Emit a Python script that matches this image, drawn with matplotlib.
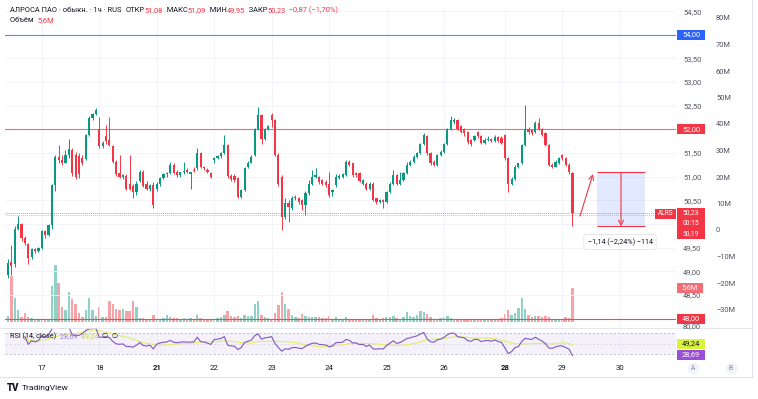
import numpy as np
import pandas as pd
import matplotlib
matplotlib.use("Agg")
import matplotlib.pyplot as plt
from matplotlib.patches import Rectangle
from matplotlib.lines import Line2D
from matplotlib.transforms import blended_transform_factory as blend

plt.rcParams['font.family'] = ['Roboto', 'DejaVu Sans']

# ---------------- data (hourly candles, ALRS) ----------------
opens = [
    48.92, 49.20, 49.15, 49.90, 50.00, 49.70, 49.58, 49.30, 49.48, 49.42,
    49.50, 49.85, 49.77, 49.98, 50.82, 51.42, 51.36, 51.30, 51.46, 51.56, 51.46, 51.44, 51.40, 51.38, 51.88, 52.25, 52.33,
    52.00, 51.65, 51.85, 51.78, 51.65, 51.32, 51.07, 51.00, 51.02, 50.85, 50.80, 50.68, 50.90, 51.10, 50.85, 50.75, 50.82,
    50.75, 50.85, 50.98, 51.05, 51.08, 51.25, 51.10, 51.04, 51.10, 51.15, 51.05, 51.14, 51.18, 51.50, 51.20, 51.15, 51.08,
    51.36, 51.40, 51.43, 51.50, 51.67, 51.02, 51.02, 50.98, 50.58, 50.72, 51.20, 51.30, 51.46, 52.00, 52.30, 51.80, 52.00,
    52.30, 52.20, 51.46, 51.00, 50.15, 50.45, 50.33, 50.55, 50.55, 50.50, 50.40, 50.65, 50.85, 51.00, 51.00, 50.92, 50.89,
    50.85, 50.68, 50.82, 50.98, 51.00, 51.04, 51.32, 51.28, 51.07, 51.07, 50.85, 50.85, 50.75, 50.85, 50.54, 50.47, 50.50,
    50.47, 50.68, 50.85, 51.04, 50.85, 50.92, 51.07, 51.25, 51.32, 51.42, 51.50, 51.70, 51.85, 51.50, 51.32, 51.25, 51.46,
    51.53, 51.70, 52.00, 52.15, 52.20, 52.07, 52.00, 51.95, 51.78, 51.78, 51.95, 51.85, 51.72, 51.78, 51.80, 51.76, 51.84, 51.82,
    51.88, 51.39, 50.85, 50.96, 51.21, 51.28, 51.67, 52.00, 51.98, 51.95, 52.14, 52.00, 51.92, 51.67, 51.25, 51.21, 51.28,
    51.46, 51.39, 51.25, 51.08,
]
highs = [
    49.25, 49.55, 49.95, 50.17, 50.02, 49.75, 49.60, 49.50, 49.50, 49.52,
    49.88, 49.88, 50.00, 50.85, 51.46, 51.67, 51.45, 51.56, 51.80, 51.60, 51.52, 51.50, 51.45, 51.90, 52.28, 52.35, 52.46,
    52.27, 51.75, 52.10, 52.27, 51.68, 51.35, 51.46, 51.06, 51.05, 51.46, 50.85, 50.90, 51.15, 51.15, 50.90, 50.85, 50.88,
    50.88, 51.00, 51.08, 51.10, 51.32, 51.30, 51.15, 51.10, 51.32, 51.18, 51.10, 51.20, 51.60, 51.52, 51.22, 51.18, 51.10,
    51.42, 51.45, 51.52, 51.88, 51.70, 51.05, 51.05, 51.00, 50.75, 51.20, 51.33, 51.45, 52.02, 52.48, 52.32, 52.02, 52.10,
    52.34, 52.22, 51.50, 51.04, 50.55, 50.50, 50.60, 50.62, 50.58, 50.52, 50.70, 50.92, 51.14, 51.18, 51.02, 50.95, 50.92,
    51.10, 50.75, 51.05, 51.05, 51.08, 51.35, 51.35, 51.30, 51.10, 51.10, 50.95, 50.88, 50.88, 50.88, 50.56, 50.52, 50.52,
    50.70, 50.88, 51.14, 51.06, 51.10, 51.10, 51.32, 51.35, 51.45, 51.52, 51.72, 51.92, 51.88, 51.52, 51.35, 51.48, 51.56,
    51.72, 52.02, 52.29, 52.25, 52.22, 52.10, 52.02, 51.97, 51.80, 51.88, 51.97, 51.88, 51.82, 51.85, 51.82, 51.88, 51.86, 51.85,
    51.90, 51.42, 51.00, 51.25, 51.30, 51.70, 52.52, 52.05, 52.00, 52.18, 52.25, 52.02, 51.95, 51.70, 51.28, 51.35, 51.42,
    51.48, 51.42, 51.28, 51.09,
]
lows = [
    48.85, 48.92, 49.10, 49.88, 49.65, 49.55, 49.15, 49.25, 49.38, 49.40,
    49.48, 49.70, 49.75, 49.90, 50.70, 51.30, 51.25, 51.28, 51.40, 51.02, 50.95, 50.98, 51.25, 51.35, 51.85, 52.20, 52.30,
    51.60, 51.60, 51.70, 51.65, 51.28, 51.02, 50.98, 50.95, 50.72, 50.72, 50.55, 50.62, 50.88, 50.78, 50.72, 50.70, 50.33,
    50.70, 50.80, 50.95, 51.00, 51.05, 51.05, 51.00, 51.00, 51.05, 51.08, 50.74, 51.10, 51.15, 51.18, 51.15, 51.08, 50.98,
    51.30, 51.38, 51.40, 51.48, 50.98, 50.90, 50.88, 50.55, 50.55, 50.70, 51.18, 51.28, 51.44, 51.98, 51.70, 51.78, 51.98,
    52.05, 51.44, 50.80, 49.88, 50.10, 50.05, 50.30, 50.50, 50.42, 50.30, 50.18, 50.62, 50.82, 50.98, 50.85, 50.82, 50.78,
    50.58, 50.60, 50.78, 50.95, 50.98, 51.02, 51.22, 51.00, 51.00, 50.88, 50.82, 50.72, 50.72, 50.48, 50.42, 50.44, 50.33,
    50.45, 50.65, 50.82, 50.82, 50.82, 50.90, 51.05, 51.22, 51.30, 51.40, 51.48, 51.68, 51.45, 51.25, 51.22, 51.22, 51.44,
    51.50, 51.68, 51.98, 52.12, 51.98, 51.92, 51.85, 51.70, 51.65, 51.75, 51.82, 51.70, 51.70, 51.76, 51.74, 51.74, 51.74, 51.70,
    51.35, 50.68, 50.82, 50.94, 51.18, 51.26, 51.65, 51.90, 51.88, 51.92, 51.98, 51.85, 51.65, 51.22, 51.18, 51.20, 51.26,
    51.36, 51.22, 51.05, 49.95,
]
closes = [
    49.17, 49.12, 49.90, 50.00, 49.70, 49.60, 49.28, 49.48, 49.42, 49.50,
    49.85, 49.76, 49.98, 50.82, 51.42, 51.35, 51.30, 51.46, 51.58, 51.07, 51.00, 51.06, 51.30, 51.88, 52.25, 52.32, 52.40,
    51.65, 51.72, 51.75, 51.68, 51.32, 51.05, 51.00, 51.04, 50.75, 50.75, 50.68, 50.85, 51.10, 50.80, 50.75, 50.82, 50.40,
    50.85, 50.98, 51.05, 51.08, 51.25, 51.08, 51.04, 51.10, 51.12, 51.10, 51.10, 51.12, 51.50, 51.20, 51.18, 51.10, 51.00,
    51.40, 51.43, 51.50, 51.67, 51.02, 50.95, 50.92, 50.58, 50.72, 51.18, 51.30, 51.42, 52.00, 52.30, 51.80, 52.00, 52.08,
    52.20, 51.46, 50.85, 50.15, 50.45, 50.35, 50.55, 50.58, 50.47, 50.40, 50.65, 50.85, 51.00, 51.04, 50.89, 50.85, 50.82,
    50.62, 50.71, 51.00, 51.02, 51.05, 51.32, 51.25, 51.04, 51.04, 50.90, 50.92, 50.75, 50.85, 50.50, 50.47, 50.50, 50.47,
    50.68, 50.85, 51.04, 50.85, 50.92, 51.07, 51.25, 51.32, 51.42, 51.50, 51.70, 51.88, 51.50, 51.28, 51.25, 51.46, 51.53,
    51.70, 52.00, 52.20, 52.20, 52.00, 51.95, 51.92, 51.74, 51.70, 51.85, 51.85, 51.72, 51.78, 51.80, 51.76, 51.84, 51.76, 51.72,
    51.39, 50.85, 50.96, 51.21, 51.28, 51.67, 52.00, 51.95, 51.92, 52.14, 52.00, 51.88, 51.67, 51.25, 51.21, 51.32, 51.39,
    51.39, 51.25, 51.10, 50.23,
]
volumes_m = [
    1.0, 7.6, 4.0, 2.0, 0.8, 1.5, 0.9, 0.6, 0.4, 0.4,
    0.3, 0.3, 0.5, 6.0, 9.4, 6.5, 2.5, 2.0, 5.0, 3.8, 3.0, 1.5, 0.8, 2.0, 4.0, 2.0, 1.0,
    2.5, 0.8, 0.8, 3.5, 3.0, 2.2, 2.0, 2.2, 1.8, 1.8, 3.5, 2.5, 0.6, 0.6, 0.4, 0.4, 1.2,
    0.4, 0.5, 0.6, 1.2, 0.8, 0.6, 0.6, 0.5, 0.6, 0.5, 0.6, 0.4, 1.2, 0.6, 0.5, 0.4, 0.5,
    0.4, 0.6, 0.8, 1.2, 1.8, 1.0, 0.8, 1.0, 0.6, 1.2, 1.0, 1.0, 3.0, 3.5, 1.2, 0.8, 0.6,
    0.5, 1.5, 2.8, 5.0, 3.0, 2.2, 1.2, 0.8, 0.6, 1.3, 1.0, 0.8, 0.9, 0.8, 0.8, 0.6, 0.6,
    1.0, 0.5, 0.8, 0.4, 0.4, 0.9, 0.5, 0.5, 0.4, 0.5, 0.4, 0.4, 0.3, 1.2, 0.6, 0.4, 0.6,
    0.8, 0.9, 1.0, 0.7, 0.5, 0.8, 1.6, 1.0, 0.8, 1.2, 1.8, 1.6, 1.3, 0.8, 0.5, 0.4, 0.6,
    0.8, 1.0, 0.6, 0.5, 0.5, 0.4, 0.4, 0.5, 0.3, 0.3, 0.3, 0.3, 0.3, 0.3, 0.3, 0.4, 0.3, 0.6,
    1.4, 2.0, 1.2, 1.5, 2.3, 3.9, 2.2, 1.1, 0.8, 1.0, 1.0, 0.8, 1.0, 0.8, 0.5, 0.4, 0.5,
    0.4, 0.8, 0.6, 5.6,
]
day_labels = ['17', '18', '21', '22', '23', '24', '25', '26', '28', '29', '30']
day_start_bar = [10, 27, 44, 61, 78, 95, 112, 129, 147, 164, 181]
bold_days = ['21', '28']
price_grid = [48.5, 49.0, 49.5, 50.0, 50.5, 51.0, 51.5, 52.0, 52.5, 53.0, 53.5, 54.0, 54.5]
price_ticks = [48.5, 49.0, 49.5, 50.5, 51.0, 51.5, 52.0, 52.5, 53.0, 53.5, 54.0, 54.5]  # 50,00 hidden by last-price tag
vol_scale_ticks = [-30, -20, -10, 0, 10, 20, 30, 40, 50, 60, 70, 80]
level_blue = 54.00
level_red_hi = 52.00
level_red_lo = 48.00
bid_price = 50.19
measure_top = 51.09
measure_bottom = 49.95
measure_text = "−1,14 (−2,24%) −114"
rsi_last = 28.69
rsi_ma_last = 49.24
rsi_header_extra = "80,00"

# ---------------- geometry ----------------
W, H = 758, 399
fig = plt.figure(figsize=(W / 100, H / 100), dpi=100)
fig.patch.set_facecolor('white')

def FX(px): return px / W
def FY(py): return 1 - py / H

PLOT_L, PLOT_R = 5, 676
PRICE_T, PRICE_B = 5, 328
RSI_T, RSI_B = 328, 358
BAR0_PX, BAR_STEP = 8, 3.38
def px2bar(px): return (px - BAR0_PX) / BAR_STEP
P_REF_Y, P_REF, P_SCALE = 224, 50.0, 47.3
def py2price(py): return P_REF + (P_REF_Y - py) / P_SCALE
def price2py(p): return P_REF_Y - (p - P_REF) * P_SCALE
VOL_BASE_Y, VOL_SCALE = 322, 6.07
VS_ZERO_Y, VS_SCALE = 230, 2.65
RSI70_Y, RSI_SCALE = 333, 0.525
def py2rsi(py): return 70 - (py - RSI70_Y) / RSI_SCALE
def rsi2py(v): return RSI70_Y + (70 - v) * RSI_SCALE

GREEN = '#089981'
RED = '#f23645'
DARK = '#131722'
GREY = '#50535e'
GRID = '#f0f3fa'

def fmt(v):
    return f"{v:.2f}".replace('.', ',').replace('-', '−')

pos_price = [FX(PLOT_L), FY(PRICE_B), FX(PLOT_R) - FX(PLOT_L), FY(PRICE_T) - FY(PRICE_B)]
pos_rsi = [FX(PLOT_L), FY(RSI_B), FX(PLOT_R) - FX(PLOT_L), FY(RSI_T) - FY(RSI_B)]

axv = fig.add_axes(pos_price)
ax = fig.add_axes(pos_price, sharex=axv)
axs = fig.add_axes(pos_price, sharex=axv)
axr = fig.add_axes(pos_rsi, sharex=axv)
for a in (axv, ax, axs, axr):
    a.set_facecolor('none')
    for s in a.spines.values():
        s.set_visible(False)
    a.tick_params(axis='x', length=0, labelbottom=False)
axv.set_xlim(px2bar(PLOT_L), px2bar(PLOT_R))

o = np.array(opens); h = np.array(highs); l = np.array(lows); c = np.array(closes)
v = np.array(volumes_m)
n = len(c)
x = np.arange(n)
h = np.maximum(h, np.maximum(o, c))
l = np.minimum(l, np.minimum(o, c))
up = c >= o

# volume pane
axv.set_ylim(-(PRICE_B - VOL_BASE_Y) / VOL_SCALE, (VOL_BASE_Y - PRICE_T) / VOL_SCALE)
axv.set_yticks([])
axv.bar(x, v, width=0.72, color=np.where(up, '#8fd1c6', '#f5a3a8'), linewidth=0, zorder=1)

# price pane
ax.set_ylim(py2price(PRICE_B), py2price(PRICE_T))
ax.yaxis.tick_right()
ax.set_yticks(price_ticks)
ax.set_yticklabels([fmt(t) for t in price_ticks])
ax.tick_params(axis='y', length=0, pad=7 * 0.72, labelsize=5.4, labelcolor=GREY)
for t in price_grid:
    ax.axhline(t, color=GRID, lw=0.6, zorder=0)
for b in day_start_bar:
    ax.axvline(b, color=GRID, lw=0.6, zorder=0)
    axr.axvline(b, color=GRID, lw=0.6, zorder=0)

ax.axhline(level_blue, color='#5b86f7', lw=0.8, zorder=2)
ax.axhline(level_red_hi, color='#ef6b76', lw=0.8, zorder=2)
ax.axhline(level_red_lo, color='#f04a57', lw=0.8, zorder=2)
ax.axhline(c[-1], color='#f28b94', lw=0.7, ls=(0, (1, 1)), zorder=2)
ax.axhline(bid_price, color='#f5b0b6', lw=0.7, ls=(0, (1, 1)), zorder=2)

col = np.where(up, GREEN, RED)
ax.vlines(x, l, h, colors=col, lw=0.7, zorder=3)
ax.bar(x, np.maximum(np.abs(c - o), 0.012), bottom=np.minimum(o, c), width=0.64,
       color=col, linewidth=0, zorder=4)

# second scale (volume scale labels)
axs.set_ylim((VS_ZERO_Y - PRICE_B) / VS_SCALE, (VS_ZERO_Y - PRICE_T) / VS_SCALE)
axs.yaxis.tick_right()
axs.set_yticks(vol_scale_ticks)
axs.set_yticklabels([('0' if t == 0 else (f"{t}M" if t > 0 else f"−{-t}M")) for t in vol_scale_ticks])
axs.tick_params(axis='y', length=0, pad=40 * 0.72, labelsize=5.4, labelcolor=GREY)

# measure tool
mx0, mx1, mxc = px2bar(597), px2bar(645), px2bar(621)
ax.add_patch(Rectangle((mx0, measure_bottom), mx1 - mx0, measure_top - measure_bottom,
                       facecolor='#2962ff', alpha=0.13, lw=0, zorder=2))
ax.hlines([measure_top, measure_bottom], mx0, mx1, color=RED, lw=0.8, zorder=5)
ax.annotate('', xy=(mxc, measure_bottom), xytext=(mxc, measure_top),
            arrowprops=dict(arrowstyle='->', color=RED, lw=0.8, mutation_scale=9, shrinkA=0, shrinkB=0), zorder=5)
ax.annotate('', xy=(px2bar(593), py2price(174)), xytext=(px2bar(580), py2price(216)),
            arrowprops=dict(arrowstyle='->', color=RED, lw=0.8, mutation_scale=9, shrinkA=0, shrinkB=0), zorder=5)
ax.text(px2bar(620), py2price(242), measure_text, ha='center', va='center', fontsize=5.2, color=DARK,
        bbox=dict(boxstyle='round,pad=0.5,rounding_size=0.3', fc='white', ec='#dcdcdc', lw=0.5), zorder=6)

# RSI pane
cs = pd.Series(c)
d = cs.diff()
ag = d.clip(lower=0).ewm(alpha=1 / 14, adjust=True, min_periods=5).mean()
al = (-d).clip(lower=0).ewm(alpha=1 / 14, adjust=True, min_periods=5).mean()
rsi = 100 - 100 / (1 + ag / al)
rsi_ma = rsi.rolling(14, min_periods=1).mean()
axr.set_ylim(py2rsi(RSI_B), py2rsi(RSI_T))
axr.set_yticks([])
axr.axhspan(30, 70, color='#7e57c2', alpha=0.08, lw=0, zorder=0)
for lev, al_ in ((70, 0.8), (50, 0.35), (30, 0.8)):
    axr.axhline(lev, color='#9598a1', lw=0.5, ls=(0, (3, 3)), alpha=al_, zorder=1)
axr.plot(x, rsi_ma, color='#e3ec6a', lw=0.8, zorder=2)
axr.plot(x, rsi, color='#7e57c2', lw=0.8, zorder=3)

# ---------------- right-side labels ----------------
def box(x0, x1, y0, y1, color, zo=5):
    fig.add_artist(Rectangle((FX(x0), FY(y1)), FX(x1) - FX(x0), FY(y0) - FY(y1),
                             transform=fig.transFigure, facecolor=color, edgecolor='none', zorder=zo))

def label(yc, text, color, tcolor='white', x0=677, x1=705, hh=5, fs=5.3):
    box(x0, x1, yc - hh, yc + hh, color)
    fig.text(FX((x0 + x1) / 2), FY(yc), text, ha='center', va='center', fontsize=fs, color=tcolor, zorder=6)

fig.text(FX(683), FY(326.5), rsi_header_extra, ha='left', va='center', fontsize=5.4, color=GREY, zorder=4)
label(price2py(level_blue), fmt(level_blue), '#2962ff')
label(price2py(level_red_hi), fmt(level_red_hi), RED)
label(price2py(level_red_lo), fmt(level_red_lo), RED)
label(288, f"{v[-1]:.1f}".replace('.', ',') + "M", '#f26d75', x1=703)
# last price block
ypl = price2py(c[-1])
box(655, 676, ypl - 4.5, ypl + 5.5, RED)
fig.text(FX(665.5), FY(ypl + 0.5), "ALRS", ha='center', va='center', fontsize=4.8, color='white', zorder=6)
box(677, 705, ypl - 5, ypl + 26, RED)
for k, txt in enumerate((fmt(c[-1]), "00:15", fmt(bid_price))):
    fig.text(FX(691), FY(ypl + 10.2 * k), txt, ha='center', va='center', fontsize=4.9,
             color='white', zorder=6)
label(rsi2py(rsi_ma_last), fmt(rsi_ma_last), '#d9f23a', tcolor=DARK)
label(rsi2py(rsi_last), fmt(rsi_last), '#9c4fd6')

# ---------------- headers ----------------
def chain(x_px, y_px, parts, size):
    t = fig.text(FX(x_px), FY(y_px), parts[0][0], color=parts[0][1], fontsize=size, va='bottom', ha='left', zorder=7)
    for s, cc in parts[1:]:
        t = axr.annotate(s, xy=(1, 0), xycoords=t, va='bottom', ha='left', color=cc,
                         fontsize=size, annotation_clip=False, zorder=7)
    return t

chg = c[-1] - c[-2]
pct = chg / c[-2] * 100
chain(10, 14, [("АЛРОСА ПАО · обыкн. · 1ч · RUS  ", DARK), ("ОТКР", DARK), (fmt(o[-1]), RED),
               ("  МАКС", DARK), (fmt(h[-1]), RED), ("  МИН", DARK), (fmt(l[-1]), RED),
               ("  ЗАКР", DARK), (fmt(c[-1]), RED), (f"  {fmt(chg)} ({fmt(pct)}%)", RED)], 5.4)
chain(10, 24, [("Объём  ", DARK), (f"{v[-1]:.1f}".replace('.', ',') + "M", RED)], 5.4)
chain(10, 340, [("RSI (14, close)  ", DARK), (fmt(rsi_last) + "  ", '#9c7fd6'),
                (fmt(rsi_ma_last) + "  ", '#c9d63a'), ("∅  ∅", DARK)], 5.2)

# ---------------- time axis ----------------
tt = blend(axr.transData, fig.transFigure)
for lab, b in zip(day_labels, day_start_bar):
    axr.text(b, FY(368), lab, transform=tt, ha='center', va='center', fontsize=5.6, color=DARK,
             fontweight='bold' if lab in bold_days else 'normal', clip_on=False)
for lab, xp in (("A", 693), ("B", 731)):
    fig.add_artist(Line2D([FX(xp)], [FY(368)], marker='o', ms=8.5, mfc='#f0f3fa', mec='none',
                          transform=fig.transFigure))
    fig.text(FX(xp), FY(368), lab, ha='center', va='center', fontsize=4.8, color='#8a8d96', zorder=6)

# frame lines
fig.add_artist(Line2D([0, FX(752)], [FY(377), FY(377)], color='#e0e3eb', lw=0.8, transform=fig.transFigure))
fig.add_artist(Line2D([FX(752), FX(752)], [FY(377), 1], color='#e0e3eb', lw=0.8, transform=fig.transFigure))
fig.add_artist(Line2D([0, FX(752)], [FY(327.5), FY(327.5)], color='#e0e3eb', lw=0.6, transform=fig.transFigure))

# logo
fig.text(FX(7), FY(388), "TV", fontsize=7, fontweight='black', color=DARK, va='center', ha='left')
fig.text(FX(22), FY(388), "TradingView", fontsize=6, color=DARK, va='center', ha='left')

fig.savefig("out.png", dpi=100, facecolor='white')
